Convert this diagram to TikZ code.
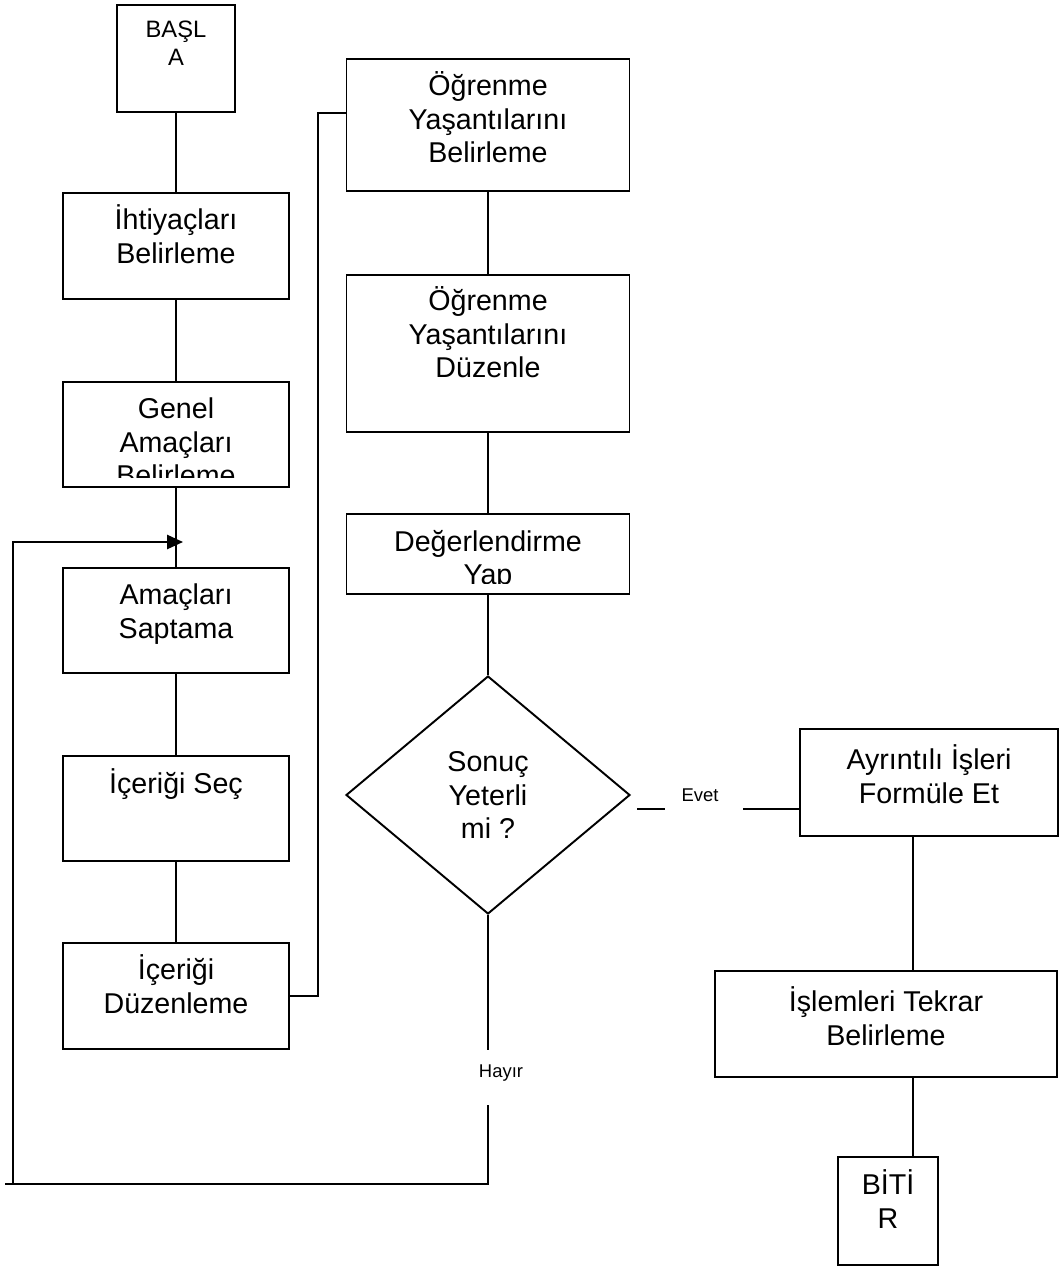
\documentclass[tikz,border=0pt]{standalone}
\usepackage{fontspec}
\setmainfont{Liberation Sans}
\usetikzlibrary{shapes.geometric, arrows.meta, calc}

\newcommand{\boxfont}{\fontsize{16.3pt}{19pt}\selectfont}
\newcommand{\startfont}{\fontsize{13.5pt}{15.9pt}\selectfont}
\newcommand{\labfont}{\fontsize{10.5pt}{12pt}\selectfont}
\newcommand{\topstrut}{\rule{0pt}{1em}}

\begin{document}
\begin{tikzpicture}[x=0.02cm, y=-0.02cm,
    stepbox/.style={rectangle, draw, line width=1.1pt, inner sep=0pt},
    choice/.style={diamond, draw, line width=1.1pt, inner sep=0pt,
                   align=center, font=\boxfont},
    txt/.style={anchor=north, inner sep=0pt, align=center, font=\boxfont},
    lab/.style={anchor=base, inner sep=0pt, font=\labfont},
    conn/.style={line width=1.1pt},
    arrow/.style={line width=1.1pt, -{Triangle[length=9pt, width=8pt]}}
]
\useasboundingbox (0,0) rectangle (1059,1267);

% left column
\node[stepbox, minimum width=2.36cm, minimum height=2.14cm] (basla) at (176,58.5) {};
\node[txt, font=\startfont] (basla-t) at ($(basla.north)+(0,9.5)$) {\topstrut BAŞL\\A};
\node[stepbox, minimum width=4.52cm, minimum height=2.12cm] (ihtiyac) at (176,246) {};
\node[txt] (ihtiyac-t) at ($(ihtiyac.north)+(0,8.9)$) {\topstrut İhtiyaçları\\Belirleme};
\node[stepbox, minimum width=4.52cm, minimum height=2.10cm] (genel) at (176,434.5) {};
\begin{scope}
  \clip (genel.north west) rectangle ($(genel.south east)+(0,-10)$);
  \node[txt] (genel-t) at ($(genel.north)+(0,8.9)$) {\topstrut Genel\\Amaçları\\Belirleme};
\end{scope}
\node[stepbox, minimum width=4.52cm, minimum height=2.10cm] (amac) at (176,620.5) {};
\node[txt] (amac-t) at ($(amac.north)+(0,8.9)$) {\topstrut Amaçları\\Saptama};
\node[stepbox, minimum width=4.52cm, minimum height=2.10cm] (icsec) at (176,808.5) {};
\node[txt] (icsec-t) at ($(icsec.north)+(0,9.5)$) {\topstrut İçeriği Seç};
\node[stepbox, minimum width=4.52cm, minimum height=2.12cm] (icduz) at (176,996) {};
\node[txt] (icduz-t) at ($(icduz.north)+(0,8.9)$) {\topstrut İçeriği\\Düzenleme};

% middle column
\node[stepbox, minimum width=5.66cm, minimum height=2.64cm] (ogrb) at (488,125) {};
\node[txt] (ogrb-t) at ($(ogrb.north)+(0,8.9)$) {\topstrut Öğrenme\\Yaşantılarını\\Belirleme};
\node[stepbox, minimum width=5.66cm, minimum height=3.14cm] (ogrd) at (488,353.5) {};
\node[txt] (ogrd-t) at ($(ogrd.north)+(0,7.9)$) {\topstrut Öğrenme\\Yaşantılarını\\Düzenle};
\node[stepbox, minimum width=5.66cm, minimum height=1.60cm] (deger) at (488,554) {};
\begin{scope}
  \clip (deger.north west) rectangle ($(deger.south east)+(0,-11)$);
  \node[txt] (deger-t) at ($(deger.north)+(0,9)$) {\topstrut Değerlendirme\\Yap};
\end{scope}
\node[choice, minimum width=5.68cm, minimum height=4.76cm] (sonuc) at (488,795) {Sonuç\\Yeterli\\mi ?};

% right column
\node[stepbox, minimum width=5.16cm, minimum height=2.14cm] (ayrinti) at (929,782.5) {};
\node[txt] (ayrinti-t) at ($(ayrinti.north)+(0,12.9)$) {\topstrut Ayrıntılı İşleri\\Formüle Et};
\node[stepbox, minimum width=6.84cm, minimum height=2.12cm] (islem) at (886,1024) {};
\node[txt] (islem-t) at ($(islem.north)+(0,12.9)$) {\topstrut İşlemleri Tekrar\\Belirleme};
\node[stepbox, minimum width=2.00cm, minimum height=2.16cm] (bitir) at (888,1211) {};
\node[txt] (bitir-t) at ($(bitir.north)+(0,9.9)$) {\topstrut BİTİ\\R};

\coordinate (bend) at (318,113);
\coordinate (evetA) at (637,809);
\coordinate (evetB) at (665,809);
\coordinate (evetC) at (743,809);
\coordinate (hayirA) at (488,1050);
\coordinate (hayirB) at (488,1105);
\coordinate (loopA) at (5,1184);
\coordinate (loopB) at (13,1184);
\coordinate (join) at (183,542);
\coordinate (rline) at (913,0);

\node[lab] (evet) at (700,801) {Evet};
\node[lab] (hayir) at (501,1077) {Hayır};

\draw[conn] (basla) -- (ihtiyac);
\draw[conn] (ihtiyac) -- (genel);
\draw[conn] (genel) -- (amac);
\draw[conn] (amac) -- (icsec);
\draw[conn] (icsec) -- (icduz);
\draw[conn] (icduz.east) -| (bend) -- (bend -| ogrb.west);
\draw[conn] (ogrb) -- (ogrd);
\draw[conn] (ogrd) -- (deger);
\draw[conn] (deger) -- (sonuc);
\draw[conn] (evetA) -- (evetB);
\draw[conn] (evetC) -- (evetC -| ayrinti.west);
\draw[conn] (sonuc.south) -- (hayirA);
\draw[conn] (hayirB) |- (loopA);
\draw[arrow] (loopB) |- (join);
\draw[conn] (ayrinti.south -| rline) -- (islem.north -| rline);
\draw[conn] (islem.south -| rline) -- (bitir.north -| rline);
\end{tikzpicture}
\end{document}
